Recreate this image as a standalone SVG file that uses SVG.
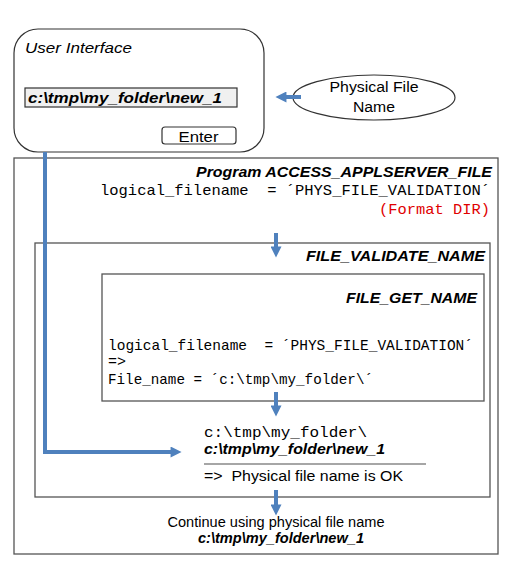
<svg xmlns="http://www.w3.org/2000/svg" width="529" height="567" viewBox="0 0 529 567">
<style>
.sans{font-family:"Liberation Sans",Arial,sans-serif;font-size:14px;fill:#000}
.bi{font-family:"Liberation Sans",Arial,sans-serif;font-size:14px;font-weight:bold;font-style:italic;fill:#000}
.it{font-family:"Liberation Sans",Arial,sans-serif;font-size:14px;font-style:italic;fill:#000}
.mono{font-family:"Liberation Mono","Courier New",monospace;font-size:15px;fill:#000;white-space:pre}
.box{fill:#fff;stroke:#555;stroke-width:1.3}
.conn{fill:none;stroke:#4f81bd;stroke-width:4}
</style>
<defs>
<marker id="ah" viewBox="0 0 12 12" markerWidth="12" markerHeight="11" refX="0.5" refY="6" orient="auto" markerUnits="userSpaceOnUse">
<path d="M0,0 L12,6 L0,12 z" fill="#4f81bd"/>
</marker>
</defs>
<rect width="529" height="567" fill="#fff"/>
<g id="program">
<rect class="box" x="14" y="158" width="484" height="396"/>
<text class="bi" x="492" y="177" text-anchor="end" textLength="296" lengthAdjust="spacingAndGlyphs">Program ACCESS_APPLSERVER_FILE</text>
<text class="mono" xml:space="preserve" x="100" y="195" font-size="15.5" textLength="390" lengthAdjust="spacingAndGlyphs">logical_filename  = ´PHYS_FILE_VALIDATION´</text>
<text class="mono" x="490" y="214" text-anchor="end" font-size="15.5" style="fill:#e00000" textLength="111" lengthAdjust="spacingAndGlyphs">(Format DIR)</text>
<text class="sans" x="276" y="527" text-anchor="middle" font-size="13" textLength="217" lengthAdjust="spacingAndGlyphs">Continue using physical file name</text>
<text class="bi" x="281" y="543" text-anchor="middle" font-size="13" textLength="166" lengthAdjust="spacingAndGlyphs">c:\tmp\my_folder\new_1</text>
</g>
<g id="file_validate_name">
<rect class="box" x="35" y="243" width="455" height="254"/>
<text class="bi" x="485" y="261" text-anchor="end" textLength="179" lengthAdjust="spacingAndGlyphs">FILE_VALIDATE_NAME</text>
<text class="mono" x="204" y="437" font-size="15.5" textLength="163" lengthAdjust="spacingAndGlyphs">c:\tmp\my_folder\</text>
<text class="bi" x="204" y="454" textLength="181" lengthAdjust="spacingAndGlyphs">c:\tmp\my_folder\new_1</text>
<line x1="204" y1="464" x2="426" y2="464" stroke="#888" stroke-width="1.5"/>
<text class="sans" xml:space="preserve" style="white-space:pre" x="204" y="481" textLength="199" lengthAdjust="spacingAndGlyphs">=&gt;  Physical file name is OK</text>
</g>
<g id="file_get_name">
<rect class="box" x="102" y="274" width="382" height="127"/>
<text class="bi" x="477" y="303" text-anchor="end" textLength="131" lengthAdjust="spacingAndGlyphs">FILE_GET_NAME</text>
<text class="mono" xml:space="preserve" x="108" y="350" font-size="14.5" textLength="365" lengthAdjust="spacingAndGlyphs">logical_filename  = ´PHYS_FILE_VALIDATION´</text>
<text class="mono" x="108" y="366" font-size="14.5">=&gt;</text>
<text class="mono" x="108" y="384" font-size="14.5" textLength="265" lengthAdjust="spacingAndGlyphs">File_name = ´c:\tmp\my_folder\´</text>
</g>
<g id="user_interface">
<rect x="14" y="29" width="250" height="123" rx="24" ry="24" fill="#fff" stroke="#333" stroke-width="1.2"/>
<text class="it" x="25" y="53" textLength="107" lengthAdjust="spacingAndGlyphs">User Interface</text>
<rect x="25" y="88" width="212" height="19" fill="#f0f0f0" stroke="#333" stroke-width="1.2"/>
<text class="bi" x="28" y="103" textLength="194" lengthAdjust="spacingAndGlyphs">c:\tmp\my_folder\new_1</text>
<rect x="162" y="127" width="74" height="17" rx="3" ry="3" fill="#fff" stroke="#333" stroke-width="1.2"/>
<text class="sans" x="198.5" y="141.5" text-anchor="middle" textLength="40" lengthAdjust="spacingAndGlyphs">Enter</text>
</g>
<g id="physical_file_name">
<ellipse cx="374" cy="97.5" rx="81" ry="22.5" fill="#fff" stroke="#333" stroke-width="1.2"/>
<text class="sans" x="374" y="92" text-anchor="middle" textLength="89" lengthAdjust="spacingAndGlyphs">Physical File</text>
<text class="sans" x="374" y="112" text-anchor="middle" textLength="42" lengthAdjust="spacingAndGlyphs">Name</text>
</g>
<g id="connectors">
<line class="conn" x1="301" y1="97" x2="286" y2="97" marker-end="url(#ah)"/>
<line class="conn" x1="276" y1="233" x2="276" y2="247" marker-end="url(#ah)"/>
<line class="conn" x1="276" y1="392" x2="276" y2="406" marker-end="url(#ah)"/>
<line class="conn" x1="276" y1="490" x2="276" y2="505" marker-end="url(#ah)"/>
<polyline class="conn" points="45,152 45,452 171,452" marker-end="url(#ah)"/>
</g>
</svg>
